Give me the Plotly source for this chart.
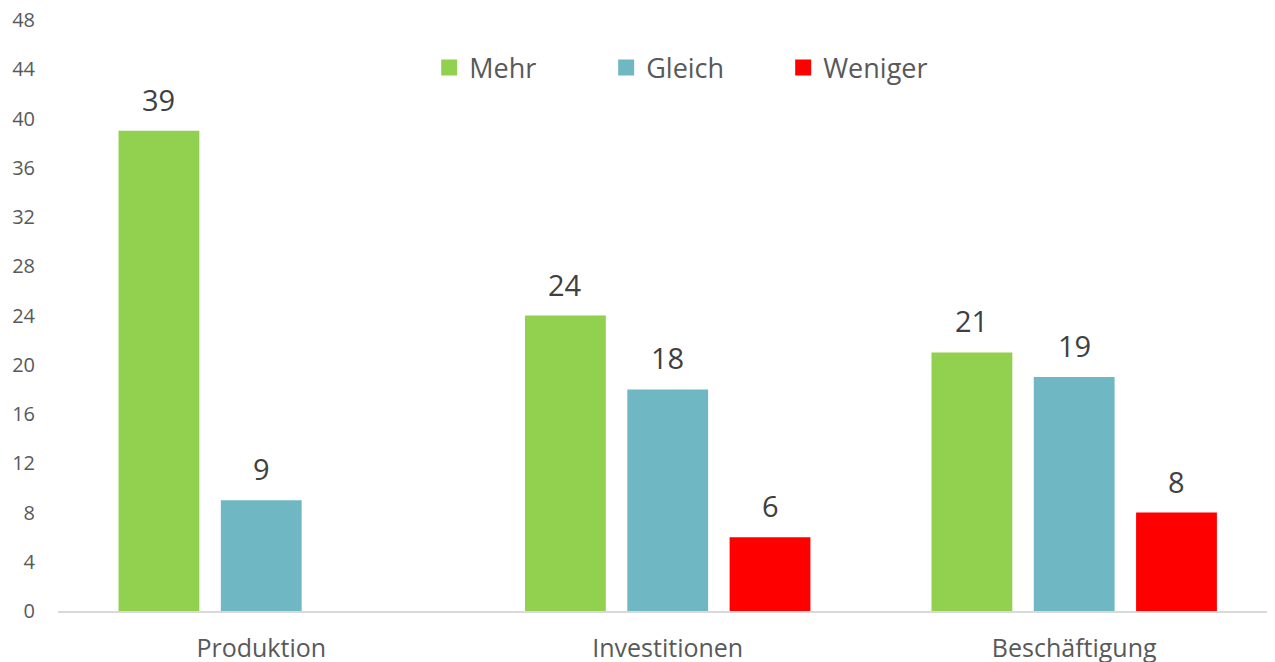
import plotly.graph_objects as go

categories = ["Produktion", "Investitionen", "Beschäftigung"]
series_names = ["Mehr", "Gleich", "Weniger"]
mehr = [39, 24, 21]
gleich = [9, 18, 19]
weniger = [None, 6, 8]
y_ticks = list(range(0, 49, 4))

colors = ["#92D050", "#6FB8C3", "#FF0000"]
FONT = "Open Sans"

fig = go.Figure()
all_values = [mehr, gleich, weniger]
for name, vals, col in zip(series_names, all_values, colors):
    fig.add_trace(go.Bar(name=name, x=categories, y=vals, marker=dict(color=col, line=dict(width=0)),
                         showlegend=False, hoverinfo="skip"))
    fig.add_trace(go.Scatter(name=name, x=[None], y=[None], mode="markers",
                             marker=dict(symbol="square", size=18, color=col), showlegend=True))

# data labels
slot_px = 102.3
for i, vals in enumerate(all_values):
    for cat, v in zip(categories, vals):
        if v is None:
            continue
        fig.add_annotation(x=cat, y=v, xref="x", yref="y", text=str(v), showarrow=False,
                           xshift=(i - 1) * slot_px, yanchor="bottom", yshift=10,
                           font=dict(family=FONT, size=29, color="#404040"))

fig.update_layout(
    barmode="group", bargap=0.245, bargroupgap=0.21,
    width=1267, height=654,
    margin=dict(l=50, r=0, t=12, b=51),
    paper_bgcolor="white", plot_bgcolor="white",
    font=dict(family=FONT, color="#595959"),
    legend=dict(orientation="h", x=0.305, xanchor="left", y=0.919, yanchor="middle",
                font=dict(family=FONT, size=27, color="#595959"), entrywidth=132,
                bgcolor="rgba(0,0,0,0)", itemsizing="trace"),
    xaxis=dict(type="category", range=[-0.5, 2.494], showline=True, linecolor="#D9D9D9", linewidth=1.5,
               ticks="", showgrid=False, zeroline=False, ticklabelstandoff=14, automargin=False,
               ticklabeloverflow="allow",
               tickfont=dict(family=FONT, size=25, color="#595959")),
    yaxis=dict(range=[0, 48], tickvals=y_ticks, showgrid=False, zeroline=False, showline=False,
               ticks="", ticklabelstandoff=22, automargin=False, ticklabeloverflow="allow",
               tickfont=dict(family=FONT, size=20, color="#595959")),
)

fig.write_html("out.html")
